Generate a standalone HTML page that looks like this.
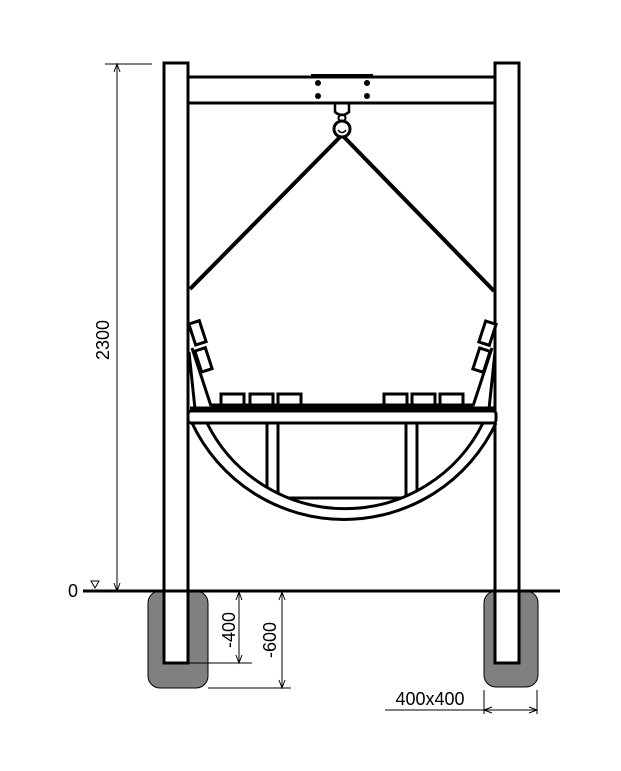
<!DOCTYPE html>
<html><head><meta charset="utf-8"><style>
html,body{margin:0;padding:0;background:#fff;}
svg{display:block;}
text{font-family:"Liberation Sans",sans-serif;fill:#000;}
</style></head><body>
<svg width="621" height="771" viewBox="0 0 621 771" xmlns="http://www.w3.org/2000/svg">
<!-- footings -->
<rect x="148" y="591" width="60" height="97" rx="12" fill="#808080" stroke="#000" stroke-width="1"/>
<rect x="484" y="591" width="54" height="96" rx="12" fill="#808080" stroke="#000" stroke-width="1"/>
<!-- posts -->
<rect x="164" y="63" width="24" height="600" fill="#fff" stroke="#000" stroke-width="3"/>
<rect x="495" y="63" width="24" height="600" fill="#fff" stroke="#000" stroke-width="3"/>
<!-- beam -->
<rect x="188" y="77" width="307" height="26" fill="#fff" stroke="#000" stroke-width="3"/>
<line x1="311" y1="75" x2="373" y2="75" stroke="#000" stroke-width="2"/>
<circle cx="318" cy="83" r="3" fill="#000"/><circle cx="367" cy="83" r="3" fill="#000"/>
<circle cx="318" cy="96" r="3" fill="#000"/><circle cx="367" cy="96" r="3" fill="#000"/>
<!-- hook -->
<path d="M335 104 L335 112 Q342 118 349 112 L349 104" fill="none" stroke="#000" stroke-width="2.5"/>
<circle cx="342" cy="118" r="3.5" fill="none" stroke="#000" stroke-width="2"/>
<circle cx="342" cy="129" r="8" fill="none" stroke="#000" stroke-width="3"/>
<path d="M338 130 Q342 135 346 130" fill="none" stroke="#000" stroke-width="1.5"/>
<!-- ropes -->
<line x1="340" y1="137" x2="190" y2="289" stroke="#000" stroke-width="4"/>
<line x1="344" y1="137" x2="494" y2="291" stroke="#000" stroke-width="4"/>
<!-- verticals -->
<g stroke="#000" stroke-width="3" fill="none">
<line x1="267" y1="423" x2="267" y2="500"/>
<rect x="278" y="423" width="128" height="75"/>
<line x1="417" y1="423" x2="417" y2="500"/>
</g>
<!-- seat arcs band -->
<path d="M192 423 A168 168 0 0 0 496 423 L483 423 A154 154 0 0 1 207 423 Z" fill="#fff" stroke="none"/>
<path d="M192 423 A168 168 0 0 0 496 423" fill="none" stroke="#000" stroke-width="3"/>
<path d="M207 423 A154 154 0 0 0 483 423" fill="none" stroke="#000" stroke-width="3"/>
<!-- platform -->
<rect x="188" y="411" width="308" height="12" rx="3" fill="#fff" stroke="#000" stroke-width="3"/>
<!-- backrests -->
<g stroke="#000" stroke-width="3" fill="#fff">
<polyline points="189,352 195,409" fill="none"/>
<polyline points="192,348 211,406" fill="none"/>
<polyline points="495,352 489,409" fill="none"/>
<polyline points="492,348 473,406" fill="none"/>
<line x1="190" y1="408" x2="495" y2="408"/>
<line x1="211" y1="405" x2="473" y2="405"/>
<rect x="192" y="322" width="11" height="22" transform="rotate(-18 197 333)"/>
<rect x="198" y="349" width="11" height="22" transform="rotate(-18 203 360)"/>
<rect x="482" y="322" width="11" height="22" transform="rotate(18 487 333)"/>
<rect x="476" y="349" width="11" height="22" transform="rotate(18 481 360)"/>
<rect x="221" y="394" width="23" height="11"/>
<rect x="250" y="394" width="23" height="11"/>
<rect x="278" y="394" width="23" height="11"/>
<rect x="384" y="394" width="23" height="11"/>
<rect x="412" y="394" width="23" height="11"/>
<rect x="440" y="394" width="23" height="11"/>
</g>
<!-- ground -->
<line x1="83" y1="591" x2="560" y2="591" stroke="#000" stroke-width="3"/>
<!-- dimensions -->
<g stroke="#000" stroke-width="1" fill="none">
<line x1="105" y1="64" x2="152" y2="64"/>
<line x1="117" y1="64" x2="117" y2="591"/>
<path d="M114 72 L117 64 L120 72"/>
<path d="M114 583 L117 591 L120 583"/>
<path d="M91 581 L99 581 L95 588 Z"/>
<line x1="188" y1="663" x2="252" y2="663"/>
<line x1="239" y1="592" x2="239" y2="663"/>
<path d="M236 600 L239 592 L242 600 M236 655 L239 663 L242 655"/>
<line x1="208" y1="688" x2="291" y2="688"/>
<line x1="282" y1="592" x2="282" y2="688"/>
<path d="M279 600 L282 592 L285 600 M279 680 L282 688 L285 680"/>
<line x1="385" y1="710" x2="537" y2="710"/>
<line x1="484" y1="690" x2="484" y2="714"/>
<line x1="537" y1="690" x2="537" y2="714"/>
<path d="M492 707 L484 710 L492 713 M529 707 L537 710 L529 713"/>
</g>
<text x="104" y="340" font-size="18" text-anchor="middle" transform="rotate(-90 104 340)" dominant-baseline="middle">2300</text>
<text x="73" y="592" font-size="18" text-anchor="middle" dominant-baseline="middle">0</text>
<text x="230" y="630" font-size="18" text-anchor="middle" transform="rotate(-90 230 630)" dominant-baseline="middle">-400</text>
<text x="271" y="640" font-size="18" text-anchor="middle" transform="rotate(-90 271 640)" dominant-baseline="middle">-600</text>
<text x="430" y="705" font-size="18" text-anchor="middle">400x400</text>
</svg>
</body></html>
